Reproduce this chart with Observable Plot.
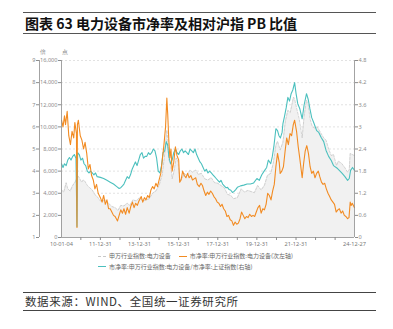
<!DOCTYPE html>
<html><head><meta charset="utf-8">
<script src="https://cdn.jsdelivr.net/npm/d3@7"></script>
<script src="https://cdn.jsdelivr.net/npm/@observablehq/plot@0.6"></script>
<style>
body{margin:0;background:#fff;font-family:"Noto Sans CJK SC","Noto Sans",sans-serif;}
#wrap{position:relative;width:393px;height:329px;overflow:hidden;}
#title{position:absolute;left:23px;top:12px;width:351px;height:20px;border-top:1.5px solid #555;border-bottom:1.5px solid #555;font-weight:bold;font-size:14px;line-height:20px;padding-left:2px;box-sizing:content-box;color:#111;white-space:nowrap;}
#chart{position:absolute;left:0;top:45px;}
#legend{position:absolute;left:98px;top:251px;font-size:6px;color:#666;line-height:10.5px;white-space:nowrap;}
#legend span.sw{display:inline-block;width:8px;height:0;vertical-align:middle;margin-right:3px;}
#source{position:absolute;left:23px;top:291.5px;width:351px;height:17px;border-top:1.2px solid #444;border-bottom:1.2px solid #444;font-size:11.5px;line-height:17px;padding-left:2px;color:#333;letter-spacing:0.6px;white-space:nowrap;}
</style></head>
<body>
<div id="wrap">
  <div id="title">图表 63 电力设备市净率及相对沪指 PB 比值</div>
  <div id="chart"></div>
  <div id="legend"></div>
  <div id="source">数据来源：WIND、全国统一证券研究所</div>
</div>
<script>
// ---- data ----
const indexDates = ["2010-01-04","2010-02-15","2010-04-01","2010-05-01","2010-06-15","2010-08-01","2010-09-15","2010-11-01","2010-12-01","2011-01-15","2011-02-15","2011-03-15","2011-05-01","2011-06-15","2011-08-01","2011-09-15","2011-11-01","2011-12-31","2012-02-15","2012-04-01","2012-06-01","2012-08-01","2012-10-01","2012-11-25","2013-01-15","2013-03-15","2013-05-15","2013-07-01","2013-09-01","2013-11-01","2014-01-01","2014-03-01","2014-05-01","2014-07-01","2014-09-01","2014-11-01","2015-01-01","2015-03-01","2015-04-15","2015-05-25","2015-06-10","2015-07-01","2015-08-01","2015-09-01","2015-10-15","2015-11-15","2015-12-15","2016-01-25","2016-03-01","2016-04-15","2016-06-01","2016-08-01","2016-09-15","2016-11-15","2017-01-01","2017-03-01","2017-05-01","2017-07-01","2017-09-01","2017-11-01","2018-01-01","2018-03-01","2018-05-01","2018-07-01","2018-09-01","2018-10-20","2019-01-01","2019-03-15","2019-05-15","2019-07-15","2019-09-15","2019-11-15","2020-01-15","2020-03-20","2020-05-20","2020-07-15","2020-09-15","2020-11-01","2020-12-20","2021-01-20","2021-03-10","2021-05-01","2021-06-15","2021-08-01","2021-09-15","2021-11-15","2021-12-10","2022-01-15","2022-03-01","2022-04-25","2022-06-01","2022-07-15","2022-08-15","2022-09-20","2022-11-01","2022-12-15","2023-02-01","2023-04-01","2023-06-01","2023-07-15","2023-09-01","2023-10-20","2023-12-01","2024-01-25","2024-03-01","2024-05-01","2024-07-01","2024-08-20","2024-09-20","2024-10-08","2024-11-15","2024-12-27"];
const indexValues = [4300,4100,4950,4400,4200,4700,5000,5600,5400,5000,5200,5100,4700,4500,4300,3900,3700,3300,3300,3400,3100,2800,2700,2450,2900,2850,3100,2900,3400,3300,3600,3300,3400,3500,4000,4200,4700,5700,7500,9700,9000,7000,6700,5300,6200,7200,6900,5200,5300,5800,5600,6100,5900,6100,5700,5800,5300,5200,5400,4950,4900,4700,4500,3900,3800,3500,3600,4400,4100,4250,4150,4050,4700,4300,4700,5600,5800,6700,8300,8700,7900,8600,10500,11500,11300,12700,12400,11600,10700,9000,11000,12400,12000,10700,10000,9900,10000,9500,9000,8800,8000,7400,7500,6500,6900,6700,6300,5900,6100,7600,7500,7400];

const pbDates = ["2010-01-04","2010-02-01","2010-03-01","2010-03-20","2010-04-20","2010-05-20","2010-06-20","2010-07-20","2010-08-20","2010-09-10","2010-10-10","2010-10-20","2010-10-28","2010-11-15","2010-12-20","2011-01-20","2011-02-20","2011-03-20","2011-04-20","2011-05-20","2011-06-20","2011-07-20","2011-08-20","2011-09-20","2011-10-20","2011-11-20","2011-12-31","2012-02-01","2012-03-01","2012-04-01","2012-05-01","2012-06-01","2012-07-01","2012-08-01","2012-09-01","2012-10-01","2012-11-15","2012-12-15","2013-01-15","2013-02-15","2013-03-15","2013-04-15","2013-05-15","2013-06-20","2013-07-20","2013-08-20","2013-09-20","2013-10-20","2013-11-20","2013-12-20","2014-02-01","2014-03-01","2014-04-01","2014-05-01","2014-06-01","2014-07-01","2014-08-01","2014-09-01","2014-10-01","2014-11-01","2014-12-01","2015-01-01","2015-02-01","2015-03-01","2015-04-01","2015-05-01","2015-05-25","2015-06-10","2015-07-01","2015-07-20","2015-08-10","2015-09-01","2015-10-01","2015-11-01","2015-12-01","2016-01-01","2016-01-20","2016-02-15","2016-03-15","2016-04-15","2016-05-15","2016-06-15","2016-07-15","2016-08-15","2016-09-15","2016-10-15","2016-11-15","2016-12-15","2017-01-20","2017-02-20","2017-03-20","2017-04-20","2017-05-20","2017-06-20","2017-07-20","2017-08-20","2017-09-20","2017-10-20","2017-11-20","2017-12-20","2018-01-20","2018-02-20","2018-03-20","2018-04-20","2018-05-20","2018-06-20","2018-07-20","2018-08-20","2018-09-20","2018-10-20","2018-11-20","2018-12-20","2019-01-20","2019-02-20","2019-03-20","2019-04-20","2019-05-20","2019-06-20","2019-07-20","2019-08-20","2019-09-20","2019-10-20","2019-11-20","2019-12-20","2020-01-20","2020-02-20","2020-03-20","2020-04-20","2020-05-20","2020-06-20","2020-07-20","2020-08-20","2020-09-20","2020-10-20","2020-11-20","2020-12-20","2021-01-20","2021-02-20","2021-03-10","2021-04-10","2021-05-10","2021-06-10","2021-07-10","2021-08-10","2021-09-10","2021-10-10","2021-11-10","2021-12-05","2022-01-10","2022-02-10","2022-03-10","2022-04-25","2022-05-20","2022-06-20","2022-07-20","2022-08-20","2022-09-20","2022-10-20","2022-11-20","2022-12-20","2023-01-20","2023-02-20","2023-03-20","2023-04-20","2023-05-20","2023-06-20","2023-07-20","2023-08-20","2023-09-20","2023-10-20","2023-11-20","2023-12-20","2024-01-20","2024-02-20","2024-03-20","2024-04-20","2024-05-20","2024-06-20","2024-07-20","2024-08-20","2024-09-15","2024-10-08","2024-10-25","2024-11-15","2024-12-27"];
const pbValues = [6.3,6.0,6.5,6.1,6.7,5.6,5.2,5.8,5.5,6.2,5.7,1.45,6.1,6.3,5.6,5.4,5.0,5.3,4.8,4.1,4.3,3.8,3.6,3.2,3.4,3.0,2.8,2.6,2.9,2.5,2.7,2.3,2.3,2.15,2.0,1.95,1.75,2.0,2.25,2.1,2.3,2.05,2.35,2.1,2.4,2.6,2.35,2.55,2.45,2.65,2.85,2.6,2.8,2.7,2.9,2.8,3.15,3.3,3.2,3.45,3.3,3.6,3.9,4.5,5.2,6.0,7.3,6.6,5.4,4.6,5.0,4.0,4.4,5.1,4.7,4.5,3.5,3.6,4.0,3.8,3.7,3.9,3.7,3.8,3.6,3.65,3.7,3.4,3.3,3.45,3.35,3.1,2.9,3.05,2.95,3.1,3.0,2.85,2.75,2.6,2.55,2.4,2.5,2.3,2.2,1.95,2.0,1.8,1.75,1.55,1.7,1.6,1.65,1.85,2.15,2.0,1.85,1.95,1.9,2.05,1.95,2.0,1.95,2.15,2.35,2.45,2.1,2.3,2.25,2.5,3.0,2.9,2.7,3.1,3.4,4.2,4.8,4.4,3.9,4.0,4.2,4.9,5.5,5.2,5.7,5.6,6.1,6.3,5.8,5.1,4.6,3.7,4.3,4.9,5.15,4.8,4.2,3.9,4.0,3.7,3.9,4.0,3.75,3.5,3.4,3.45,3.2,3.0,2.85,2.7,2.6,2.5,2.15,2.25,2.3,2.1,2.2,2.0,1.95,1.85,1.9,2.6,2.45,2.55,2.35];

const ratioDates = ["2010-01-04","2010-02-01","2010-03-01","2010-04-01","2010-05-01","2010-06-01","2010-07-01","2010-08-01","2010-09-01","2010-10-01","2010-10-20","2010-11-01","2010-12-01","2011-01-01","2011-02-01","2011-03-01","2011-04-01","2011-05-01","2011-06-01","2011-07-01","2011-08-01","2011-09-01","2011-10-01","2011-11-01","2011-12-31","2012-03-01","2012-05-01","2012-07-01","2012-09-01","2012-11-01","2012-12-15","2013-01-15","2013-02-15","2013-03-15","2013-04-15","2013-05-15","2013-06-15","2013-07-15","2013-08-15","2013-09-15","2013-10-15","2013-11-15","2013-12-15","2014-01-15","2014-02-15","2014-03-15","2014-04-15","2014-05-15","2014-06-15","2014-07-15","2014-08-15","2014-09-15","2014-10-15","2014-11-15","2014-12-15","2015-01-15","2015-02-15","2015-03-15","2015-04-15","2015-05-15","2015-06-10","2015-07-01","2015-08-01","2015-09-01","2015-10-01","2015-11-01","2015-12-01","2016-01-01","2016-02-01","2016-03-01","2016-04-01","2016-05-01","2016-06-01","2016-07-01","2016-08-01","2016-09-01","2016-10-01","2016-11-01","2016-12-01","2017-01-01","2017-02-01","2017-03-01","2017-04-01","2017-05-01","2017-06-01","2017-07-01","2017-08-01","2017-09-01","2017-10-01","2017-11-01","2017-12-01","2018-01-01","2018-02-01","2018-03-01","2018-04-01","2018-05-01","2018-06-01","2018-07-01","2018-08-01","2018-09-01","2018-10-01","2018-11-01","2018-12-01","2019-01-01","2019-03-01","2019-05-01","2019-07-01","2019-09-01","2019-11-01","2020-01-01","2020-02-15","2020-04-01","2020-05-15","2020-07-01","2020-08-01","2020-09-15","2020-10-15","2020-11-15","2020-12-20","2021-01-20","2021-02-15","2021-03-15","2021-04-15","2021-05-01","2021-06-01","2021-07-01","2021-08-01","2021-09-01","2021-10-01","2021-11-01","2021-12-05","2022-01-01","2022-02-01","2022-03-10","2022-04-25","2022-06-01","2022-07-15","2022-08-15","2022-09-15","2022-10-20","2022-12-01","2023-01-20","2023-03-01","2023-04-15","2023-06-01","2023-07-15","2023-09-01","2023-10-20","2023-12-01","2024-02-15","2024-04-01","2024-05-15","2024-07-01","2024-08-20","2024-09-20","2024-10-15","2024-11-20","2024-12-27"];
const ratioValues = [2.0,1.9,2.0,1.95,2.1,2.17,2.1,2.2,2.25,2.15,0.3,2.3,2.25,2.1,2.15,2.0,1.95,1.8,1.75,1.8,1.75,1.7,1.75,1.65,1.63,1.6,1.55,1.5,1.45,1.38,1.33,1.35,1.4,1.45,1.55,1.65,1.6,1.7,1.85,1.95,2.05,1.95,2.1,2.25,2.3,2.15,2.2,2.2,2.3,2.25,2.3,2.4,2.35,2.15,1.8,1.75,1.95,2.3,2.35,2.6,2.5,2.2,2.0,2.1,2.3,2.4,2.3,2.25,2.35,2.4,2.3,2.35,2.3,2.25,2.4,2.35,2.3,2.4,2.25,2.15,2.05,2.0,1.9,1.8,1.85,1.75,1.8,1.75,1.7,1.65,1.6,1.55,1.5,1.55,1.45,1.4,1.35,1.36,1.3,1.28,1.22,1.25,1.3,1.36,1.4,1.42,1.45,1.45,1.48,1.6,1.55,1.7,1.8,1.9,2.1,2.0,2.2,2.5,2.95,2.9,2.76,2.7,2.85,3.09,3.3,3.52,3.8,3.7,3.9,4.0,4.2,3.9,3.63,3.5,3.22,3.6,3.9,3.75,3.5,3.25,3.1,2.9,2.85,2.71,2.6,2.36,2.2,2.09,1.95,1.87,1.8,1.73,1.65,1.55,1.6,1.82,1.9,1.82];

const pbTicks = [1,2,3,4,5,6,7,8,9];
const indexTickLabels = ["0","2,000","4,000","6,000","8,000","10,000","12,000","14,000","16,000"];
const ratioTickLabels = ["0","0.6","1.2","1.8","2.4","3","3.6","4.2","4.8"];
const xLabelDates = ["2010-01-04","2011-12-31","2013-12-31","2015-12-31","2017-12-31","2019-12-31","2021-12-31","2024-12-27"];
const xLabelTexts = ["10-01-04","11-12-31","13-12-31","15-12-31","17-12-31","19-12-31","21-12-31","24-12-27"];
const yearTickDates = ["2010-12-31","2011-12-31","2012-12-31","2013-12-31","2014-12-31","2015-12-31","2016-12-31","2017-12-31","2018-12-31","2019-12-31","2020-12-31","2021-12-31","2022-12-31","2023-12-31"];
const seriesNames = ["申万行业指数:电力设备","市净率:申万行业指数:电力设备(次左轴)","市净率:申万行业指数:电力设备/市净率:上证指数(右轴)"];
const seriesColors = ["#c8c8c8","#f28b22","#4cc0be"];

// ---- build ----
const P = d3.utcParse("%Y-%m-%d");
const indexData = indexDates.map((d,i)=>({date:P(d), v:indexValues[i]}));
const pbData = pbDates.map((d,i)=>({date:P(d), v:pbValues[i]}));
const ratioData = ratioDates.map((d,i)=>({date:P(d), v:ratioValues[i]}));
const start = P("2010-01-04"), end = P("2024-12-27");
// map secondary series onto the PB axis (1..9)
const fromIndex = v => 1 + v/2000;
const fromRatio = v => 1 + v/0.6;

const axisColor = "#8c8c8c";
const fs = 5.6;
const xLab = new Map(xLabelDates.map((d,i)=>[+P(d), xLabelTexts[i]]));

const chart = Plot.plot({
  width: 393, height: 207,
  marginLeft: 61, marginRight: 39, marginTop: 15, marginBottom: 15,
  style: {fontFamily: "'Noto Sans','DejaVu Sans',sans-serif", fontSize: fs+"px", color: "#666", background: "transparent"},
  x: {type: "utc", domain: [start, end]},
  y: {domain: [1, 9]},
  marks: [
    Plot.ruleY(pbTicks.slice(1), {stroke: "#d6d6d6", strokeWidth: 0.7, strokeDasharray: "2,2"}),
    Plot.areaY(indexData, {x: "date", y1: 1, y2: d => fromIndex(d.v), fill: "#f1f1f1"}),
    Plot.lineY(indexData, {x: "date", y: d => fromIndex(d.v), stroke: seriesColors[0], strokeWidth: 0.8, strokeDasharray: "2.5,1.5"}),
    Plot.lineY(ratioData, {x: "date", y: d => fromRatio(d.v), stroke: seriesColors[2], strokeWidth: 1.1}),
    Plot.lineY(pbData, {x: "date", y: "v", stroke: seriesColors[1], strokeWidth: 1.1}),
    // axis lines
    Plot.ruleX([start], {y1: 1, y2: 9, stroke: axisColor, strokeWidth: 0.8}),
    Plot.ruleX([start], {y1: 1, y2: 9, dx: -22, stroke: axisColor, strokeWidth: 0.8}),
    Plot.ruleX([end], {y1: 1, y2: 9, stroke: axisColor, strokeWidth: 0.8}),
    Plot.ruleY([1], {stroke: axisColor, strokeWidth: 0.8}),
    // y axes
    Plot.axisY({anchor: "left", ticks: pbTicks, tickFormat: (d,i) => indexTickLabels[pbTicks.indexOf(d)], tickSize: 3, tickPadding: 1, color: axisColor, fontSize: fs, label: null}),
    Plot.axisY({anchor: "left", ticks: pbTicks, tickFormat: d => String(d), dx: -22, tickSize: 3, tickPadding: 1, color: axisColor, fontSize: fs, label: null}),
    Plot.axisY({anchor: "right", ticks: pbTicks, tickFormat: d => ratioTickLabels[pbTicks.indexOf(d)], tickSize: 3, tickPadding: 1, color: axisColor, fontSize: fs, label: null}),
    // x axis
    Plot.axisX({ticks: yearTickDates.map(P), tickFormat: () => "", tickSize: 3, color: axisColor, label: null}),
    Plot.axisX({ticks: xLabelDates.map(P), tickFormat: d => xLab.get(+d), tickSize: 0, tickPadding: 5, color: "#777", fontSize: fs, label: null}),
    // unit labels
    Plot.text(["点"], {frameAnchor: "top-left", dy: -10, fill: "#888", fontSize: 5.5}),
    Plot.text(["倍"], {frameAnchor: "top-left", dx: -22, dy: -10, fill: "#888", fontSize: 5.5})
  ]
});
document.getElementById("chart").appendChild(chart);

// legend
const lg = document.getElementById("legend");
lg.innerHTML =
  `<div><span class="sw" style="border-top:1px dashed ${seriesColors[0]}"></span>${seriesNames[0]}` +
  `<span class="sw" style="border-top:1.5px solid ${seriesColors[1]};margin-left:8px"></span>${seriesNames[1]}</div>` +
  `<div><span class="sw" style="border-top:1.5px solid ${seriesColors[2]}"></span>${seriesNames[2]}</div>`;
</script>
</body></html>
